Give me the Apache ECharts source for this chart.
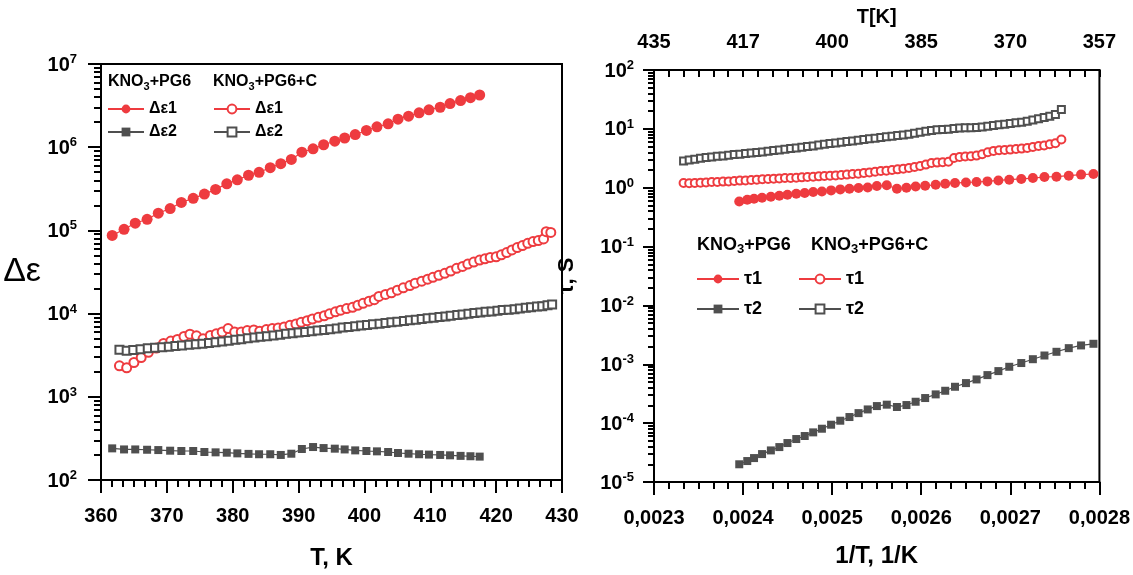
<!DOCTYPE html>
<html>
<head>
<meta charset="utf-8">
<script src="https://cdn.jsdelivr.net/npm/echarts@6/dist/echarts.min.js"></script>
<style>
  html, body { margin: 0; background: #fff; }
  #chart { width: 1133px; height: 575px; }
</style>
</head>
<body>
<div id="chart"></div>
<script>
// ---- left panel: Δε vs T ----
var tempPG6 = [361.7, 363.5, 365.2, 367.0, 368.7, 370.5, 372.2, 374.0, 375.7, 377.4, 379.1, 380.7, 382.4, 384.0, 385.7, 387.3, 388.9, 390.5, 392.2, 393.8, 395.5, 397.0, 398.6, 400.3, 401.9, 403.6, 405.1, 406.7, 408.3, 409.8, 411.5, 413.0, 414.6, 416.1, 417.5];
var depsPG6_1 = [8.7e4, 1.03e5, 1.22e5, 1.36e5, 1.61e5, 1.83e5, 2.17e5, 2.43e5, 2.73e5, 3.11e5, 3.63e5, 4.05e5, 4.6e5, 4.99e5, 5.67e5, 6.34e5, 7.13e5, 8.71e5, 9.55e5, 1.07e6, 1.18e6, 1.29e6, 1.42e6, 1.59e6, 1.76e6, 1.91e6, 2.17e6, 2.36e6, 2.59e6, 2.81e6, 3.02e6, 3.34e6, 3.63e6, 3.94e6, 4.24e6];
var depsPG6_2 = [240, 233, 233, 231, 229, 225, 223, 223, 217, 215, 213, 209, 206, 204, 204, 200, 207, 236, 249, 242, 238, 233, 227, 223, 221, 217, 211, 207, 204, 202, 200, 198, 195, 193, 191];

var tempC1 = [362.8, 363.9, 365.0, 366.1, 367.2, 368.4, 369.5, 370.6, 371.6, 372.6, 373.5, 374.5, 375.5, 376.6, 377.5, 378.4, 379.3, 380.3, 381.3, 382.2, 383.2, 384.1, 385.1, 386.0, 386.9, 387.8, 388.7, 389.6, 390.4, 391.3, 392.1, 393.0, 393.9, 394.7, 395.6, 396.4, 397.3, 398.2, 399.0, 399.8, 400.7, 401.5, 402.2, 403.2, 404.1, 405.0, 405.9, 406.9, 407.7, 408.7, 409.6, 410.4, 411.3, 412.2, 413.1, 414.0, 414.9, 415.7, 416.6, 417.5, 418.3, 419.1, 420.0, 420.8, 421.6, 422.4, 423.2, 424.0, 424.8, 425.6, 426.4, 427.2, 427.6, 428.3];
var depsC_1 = [2356, 2234, 2583, 2960, 3427, 3855, 4383, 4670, 4890, 5310, 5650, 5400, 4980, 5460, 5710, 6030, 6600, 6030, 6030, 6250, 6370, 6140, 6430, 6600, 6730, 6920, 7230, 7500, 7860, 8230, 8610, 9020, 9420, 9950, 10500, 11000, 11500, 11900, 12600, 13300, 14100, 14700, 16100, 17000, 17800, 19100, 20400, 21700, 23200, 24500, 25900, 27300, 28900, 30500, 32500, 35000, 36900, 39400, 41600, 44000, 45600, 47300, 48200, 50800, 54200, 58300, 62200, 65700, 70000, 73300, 75400, 78900, 96400, 94600];

var tempC2 = [362.8, 363.9, 364.9, 366.0, 367.1, 368.2, 369.3, 370.3, 371.3, 372.3, 373.4, 374.4, 375.4, 376.4, 377.4, 378.4, 379.4, 380.4, 381.3, 382.3, 383.3, 384.2, 385.2, 386.2, 387.2, 388.1, 389.1, 390.0, 391.0, 392.0, 392.9, 393.9, 394.8, 395.8, 396.7, 397.6, 398.6, 399.5, 400.4, 401.3, 402.3, 403.2, 404.1, 405.0, 406.0, 406.9, 407.8, 408.7, 409.6, 410.5, 411.4, 412.3, 413.1, 414.1, 414.9, 415.8, 416.7, 417.6, 418.4, 419.3, 420.2, 421.0, 421.9, 422.8, 423.6, 424.5, 425.3, 426.2, 427.0, 427.8, 428.5];
var depsC_2 = [3680, 3580, 3650, 3720, 3820, 3890, 3930, 4000, 4070, 4150, 4230, 4270, 4350, 4430, 4540, 4630, 4710, 4840, 4930, 5070, 5160, 5260, 5360, 5460, 5560, 5710, 5810, 5920, 6030, 6140, 6250, 6370, 6490, 6610, 6790, 6920, 7050, 7170, 7300, 7440, 7570, 7710, 7850, 8000, 8150, 8300, 8450, 8610, 8770, 8920, 9090, 9260, 9430, 9600, 9780, 9960, 10140, 10330, 10520, 10620, 10810, 11010, 11110, 11310, 11520, 11730, 11950, 12170, 12280, 12620, 12900];

// ---- right panel: τ vs 1/T ----
var invTPG6 = [0.0023957, 0.0024047, 0.0024123, 0.0024213, 0.0024312, 0.0024407, 0.0024498, 0.0024597, 0.0024692, 0.0024787, 0.0024885, 0.0024988, 0.0025091, 0.0025194, 0.0025296, 0.0025399, 0.0025502, 0.0025613, 0.0025727, 0.0025834, 0.0025937, 0.0026044, 0.0026162, 0.0026269, 0.0026379, 0.0026502, 0.0026621, 0.0026743, 0.0026866, 0.0026988, 0.0027123, 0.0027253, 0.0027383, 0.0027518, 0.0027656, 0.0027794, 0.0027933];
var tauPG6_1 = [0.585, 0.624, 0.648, 0.676, 0.703, 0.731, 0.760, 0.791, 0.812, 0.844, 0.865, 0.901, 0.937, 0.962, 0.987, 1.01, 1.07, 1.10, 0.962, 1.0, 1.05, 1.08, 1.12, 1.17, 1.20, 1.23, 1.25, 1.28, 1.33, 1.37, 1.41, 1.46, 1.52, 1.54, 1.60, 1.67, 1.71];
var tauPG6_2 = [2.0e-5, 2.27e-5, 2.55e-5, 2.98e-5, 3.44e-5, 3.92e-5, 4.59e-5, 5.37e-5, 6.04e-5, 6.97e-5, 8.04e-5, 9.40e-5, 1.10e-4, 1.27e-4, 1.48e-4, 1.71e-4, 1.95e-4, 2.06e-4, 1.88e-4, 2.03e-4, 2.31e-4, 2.67e-4, 3.08e-4, 3.55e-4, 4.15e-4, 4.79e-4, 5.53e-4, 6.55e-4, 7.66e-4, 9.07e-4, 1.05e-3, 1.22e-3, 1.41e-3, 1.63e-3, 1.88e-3, 2.09e-3, 2.23e-3];

var invTC = [0.0023332, 0.0023395, 0.0023458, 0.0023522, 0.0023585, 0.0023648, 0.0023711, 0.0023775, 0.0023838, 0.0023901, 0.0023964, 0.0024028, 0.0024091, 0.0024154, 0.0024217, 0.0024281, 0.0024344, 0.0024407, 0.0024470, 0.0024534, 0.0024597, 0.0024660, 0.0024723, 0.0024787, 0.0024850, 0.0024913, 0.0024976, 0.0025040, 0.0025103, 0.0025166, 0.0025229, 0.0025293, 0.0025356, 0.0025419, 0.0025482, 0.0025546, 0.0025609, 0.0025672, 0.0025735, 0.0025799, 0.0025862, 0.0025925, 0.0025988, 0.0026052, 0.0026115, 0.0026178, 0.0026241, 0.0026305, 0.0026368, 0.0026431, 0.0026494, 0.0026558, 0.0026621, 0.0026684, 0.0026747, 0.0026811, 0.0026874, 0.0026937, 0.0027000, 0.0027064, 0.0027127, 0.0027190, 0.0027253, 0.0027317, 0.0027380, 0.0027443, 0.0027506, 0.0027573];
var tauC_1 = [1.20, 1.19, 1.20, 1.22, 1.23, 1.25, 1.25, 1.27, 1.28, 1.30, 1.32, 1.33, 1.35, 1.37, 1.39, 1.41, 1.42, 1.44, 1.46, 1.46, 1.48, 1.50, 1.52, 1.54, 1.56, 1.58, 1.60, 1.62, 1.64, 1.67, 1.71, 1.73, 1.78, 1.82, 1.87, 1.92, 1.95, 2.00, 2.05, 2.11, 2.16, 2.25, 2.34, 2.47, 2.63, 2.67, 2.70, 2.77, 3.20, 3.33, 3.38, 3.42, 3.51, 3.70, 4.00, 4.22, 4.33, 4.38, 4.44, 4.56, 4.62, 4.74, 4.93, 5.13, 5.20, 5.48, 5.70, 6.58];
var tauC_2 = [2.85, 2.97, 3.04, 3.16, 3.25, 3.33, 3.42, 3.47, 3.56, 3.65, 3.70, 3.80, 3.90, 3.95, 4.06, 4.16, 4.27, 4.38, 4.50, 4.62, 4.74, 4.87, 5.00, 5.13, 5.33, 5.48, 5.62, 5.77, 5.92, 6.08, 6.24, 6.41, 6.58, 6.76, 6.93, 7.12, 7.31, 7.50, 7.70, 7.90, 8.11, 8.43, 8.77, 9.12, 9.37, 9.62, 9.75, 9.87, 10.1, 10.3, 10.4, 10.4, 10.5, 10.8, 11.1, 11.4, 11.7, 12.0, 12.3, 12.7, 13.0, 13.5, 14.1, 14.8, 15.6, 16.4, 17.6, 21.4];

// tick labels
var invTLabels = ['0,0023', '0,0024', '0,0025', '0,0026', '0,0027', '0,0028'];
var topTLabels = ['435', '417', '400', '385', '370', '357'];

var RED = '#ee3b3f';
var GRAY = '#4f4f4f';
var NARROW = '"Liberation Sans Narrow", "Liberation Sans", Arial, sans-serif';
var SANS = '"Liberation Sans", Arial, sans-serif';

function zip(xs, ys) {
  return xs.map(function (x, i) { return [x, ys[i]]; });
}

function powLabel(v) {
  return '{b|10}{s|' + Math.round(Math.log10(v)) + '}';
}
var powRich = {
  b: { fontFamily: NARROW, fontSize: 20, fontWeight: 'bold', color: '#000', lineHeight: 22, verticalAlign: 'bottom' },
  s: { fontFamily: NARROW, fontSize: 13, fontWeight: 'bold', color: '#000', lineHeight: 22, verticalAlign: 'top' }
};

// minor tick values of a log axis (2..9 inside every decade)
function logMinor(lo, hi) {
  var out = [];
  for (var d = lo; d < hi; d++) {
    for (var k = 2; k <= 9; k++) out.push(k * Math.pow(10, d));
  }
  return out;
}
// twin log axis on the same side: no line, no labels, only the short minor ticks.
// one real series is attached to it so the axis is not blank.
function minorAxis(grid, min, max, lo, hi, len) {
  return {
    gridIndex: grid, type: 'log', logBase: 10, min: min, max: max, position: 'left',
    axisLine: { show: false },
    axisLabel: { show: false },
    splitLine: { show: false },
    axisTick: { show: true, length: len, customValues: logMinor(lo, hi), lineStyle: { color: '#000', width: 2 } }
  };
}

function line(name, xi, yi, data, symbol, size, color) {
  var hollow = symbol.indexOf('empty') === 0;
  return {
    name: name, type: 'line', xAxisIndex: xi, yAxisIndex: yi,
    data: data, symbol: symbol, symbolSize: size,
    showAllSymbol: true, animation: false,
    lineStyle: { color: color, width: 1.2 },
    itemStyle: { color: color, borderColor: color, borderWidth: hollow ? 1 : 0 },
    z: hollow ? 3 : 4
  };
}

function header(text, left, top, size) {
  return {
    text: '{m|KNO}{sub|3}{m|' + text + '}', left: left, top: top, padding: 0,
    textStyle: {
      rich: {
        m: { fontFamily: SANS, fontSize: size, fontWeight: 'bold', color: '#000', lineHeight: size + 4, verticalAlign: 'middle' },
        sub: { fontFamily: SANS, fontSize: size - 5, fontWeight: 'bold', color: '#000', lineHeight: size + 4, verticalAlign: 'bottom' }
      }
    }
  };
}

function legend(names, left, top, w, gap, size) {
  return {
    data: names, left: left, top: top, orient: 'vertical', selectedMode: false,
    itemWidth: w, itemHeight: 11, itemGap: gap,
    formatter: function (n) { return n.split('|')[1]; },
    textStyle: { fontFamily: SANS, fontSize: size, fontWeight: 'bold', color: '#000', lineHeight: 20 }
  };
}

var axisLine = { show: true, lineStyle: { color: '#000', width: 2 } };
var chart = echarts.init(document.getElementById('chart'));
chart.setOption({
  backgroundColor: '#fff',
  animation: false,
  title: [
    header('+PG6', 108, 72, 16),
    header('+PG6+C', 213, 72, 16),
    header('+PG6', 697, 234, 18),
    header('+PG6+C', 811, 234, 18)
  ],
  legend: [
    legend(['A|Δε1', 'A|Δε2'], 102, 94, 36, 3, 16),
    legend(['B|Δε1', 'B|Δε2'], 208, 94, 36, 3, 16),
    legend(['C|τ1', 'C|τ2'], 691, 264, 42, 10, 18),
    legend(['D|τ1', 'D|τ2'], 793, 264, 42, 10, 18)
  ],
  grid: [
    { left: 101, top: 64, width: 461, height: 420, show: true, borderColor: '#000', borderWidth: 2 },
    { left: 654, top: 70, width: 447, height: 412, show: true, borderColor: '#000', borderWidth: 2 }
  ],
  xAxis: [
    {
      gridIndex: 0, type: 'value', min: 360, max: 430, interval: 10,
      axisLine: axisLine,
      axisTick: { length: 13, lineStyle: { color: '#000', width: 2 } },
      minorTick: { show: true, splitNumber: 6, length: 7, lineStyle: { color: '#000', width: 2 } },
      splitLine: { show: false },
      axisLabel: { fontFamily: NARROW, fontSize: 20, fontWeight: 'bold', color: '#000', margin: 26 },
      name: 'T, K', nameLocation: 'middle', nameGap: 66,
      nameTextStyle: { fontFamily: SANS, fontSize: 24, fontWeight: 'bold', color: '#000' }
    },
    {
      gridIndex: 1, type: 'value', min: 0.0023, max: 0.0028, interval: 0.0001,
      axisLine: axisLine,
      axisTick: { length: 13, lineStyle: { color: '#000', width: 2 } },
      minorTick: { show: true, splitNumber: 6, length: 7, lineStyle: { color: '#000', width: 2 } },
      splitLine: { show: false },
      axisLabel: {
        fontFamily: NARROW, fontSize: 20, fontWeight: 'bold', color: '#000', margin: 26,
        formatter: function (v) { return invTLabels[Math.round((v - 0.0023) / 0.0001)]; }
      },
      name: '1/T, 1/K', nameLocation: 'middle', nameGap: 62,
      nameTextStyle: { fontFamily: SANS, fontSize: 24, fontWeight: 'bold', color: '#000' }
    },
    {
      gridIndex: 1, type: 'value', position: 'top', min: 0.0023, max: 0.0028, interval: 0.0001,
      axisLine: axisLine,
      axisTick: { inside: true, length: 7, lineStyle: { color: '#000', width: 2 } },
      minorTick: { show: true, splitNumber: 6, length: 7, lineStyle: { color: '#000', width: 2 } },
      splitLine: { show: false },
      axisLabel: {
        fontFamily: NARROW, fontSize: 20, fontWeight: 'bold', color: '#000', margin: 18,
        formatter: function (v) { return topTLabels[Math.round((v - 0.0023) / 0.0001)]; }
      },
      name: 'T[K]', nameLocation: 'middle', nameGap: 40,
      nameTextStyle: { fontFamily: NARROW, fontSize: 20, fontWeight: 'bold', color: '#000' }
    }
  ],
  yAxis: [
    {
      gridIndex: 0, type: 'log', logBase: 10, min: 100, max: 1e7,
      axisLine: axisLine,
      axisTick: { length: 13, lineStyle: { color: '#000', width: 2 } },
      splitLine: { show: false },
      axisLabel: { margin: 24, formatter: powLabel, rich: powRich },
      name: 'Δε', nameLocation: 'middle', nameRotate: 0, nameGap: 60,
      nameTextStyle: { fontFamily: SANS, fontSize: 34, color: '#000', padding: [10, 0, 0, 0] }
    },
    {
      gridIndex: 1, type: 'log', logBase: 10, min: 1e-5, max: 100,
      axisLine: axisLine,
      axisTick: { length: 11, lineStyle: { color: '#000', width: 2 } },
      splitLine: { show: false },
      axisLabel: { margin: 20, formatter: powLabel, rich: powRich },
      name: 'τ, S', nameLocation: 'middle', nameGap: 76,
      nameTextStyle: { fontFamily: SANS, fontSize: 22, fontWeight: 'bold', color: '#000' }
    },
    minorAxis(0, 100, 1e7, 2, 7, 7),
    minorAxis(1, 1e-5, 100, -5, 2, 6)
  ],
  series: [
    line('B|Δε1', 0, 0, zip(tempC1, depsC_1), 'emptyCircle', 9, RED),
    line('B|Δε2', 0, 0, zip(tempC2, depsC_2), 'emptyRect', 8, GRAY),
    line('A|Δε1', 0, 0, zip(tempPG6, depsPG6_1), 'circle', 11, RED),
    line('A|Δε2', 0, 2, zip(tempPG6, depsPG6_2), 'rect', 8, GRAY),
    line('D|τ1', 1, 1, zip(invTC, tauC_1), 'emptyCircle', 8, RED),
    line('D|τ2', 1, 1, zip(invTC, tauC_2), 'emptyRect', 7, GRAY),
    line('C|τ1', 1, 1, zip(invTPG6, tauPG6_1), 'circle', 10, RED),
    line('C|τ2', 1, 3, zip(invTPG6, tauPG6_2), 'rect', 8, GRAY)
  ]
});
</script>
</body>
</html>
